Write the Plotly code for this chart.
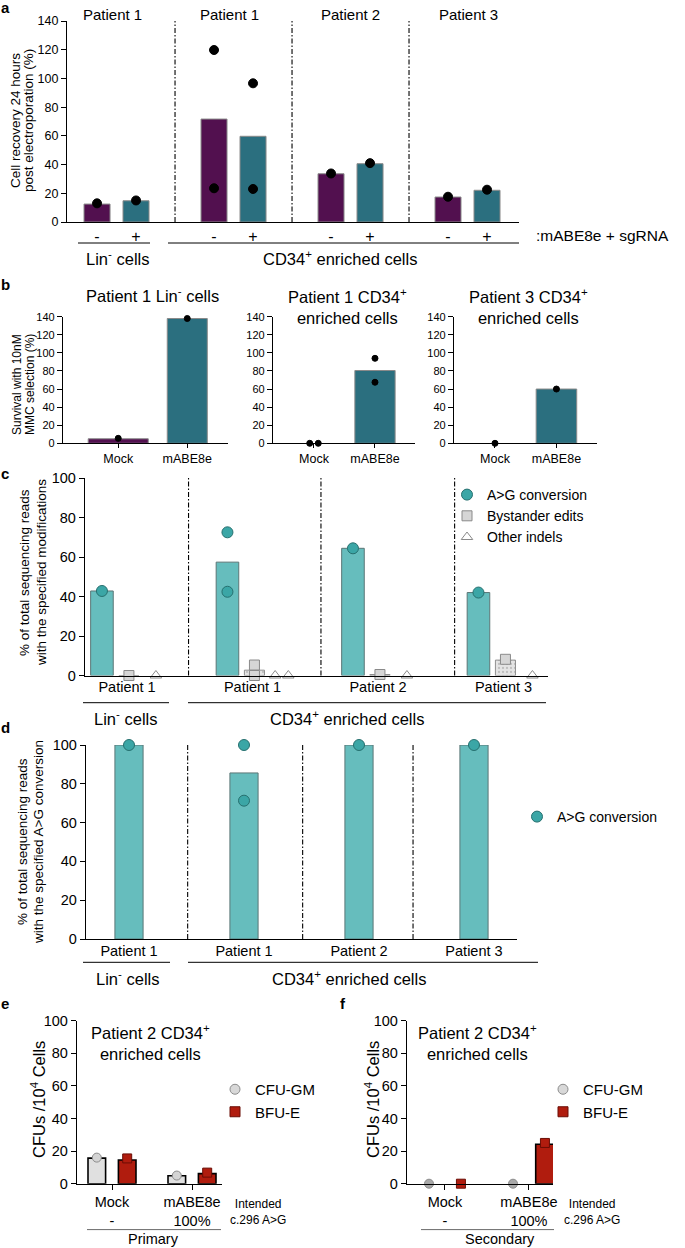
import plotly.graph_objects as go

W, H = 685, 1248
FONT = "Liberation Sans, Arial, Helvetica, sans-serif"

# ---------------- data ----------------
# a: cell recovery 24 h post electroporation (%)
a_titles = ["Patient 1", "Patient 1", "Patient 2", "Patient 3"]
a_mock_bar = [12.5, 71.7, 33.6, 17.4]
a_edit_bar = [14.8, 59.7, 40.6, 22.1]
a_mock_pts = [[13.0], [119.8, 23.5], [33.8], [17.6]]
a_edit_pts = [[15.0], [96.6, 23.0], [41.0], [22.5]]
a_ticktext = ["-", "+"]

# b: survival with 10nM MMC selection (%)
b_titles = ["Patient 1 Lin<sup>-</sup> cells",
            "Patient 1 CD34<sup>+</sup><br>enriched cells",
            "Patient 3 CD34<sup>+</sup><br>enriched cells"]
b_cats = ["Mock", "mABE8e"]
b_mock_bar = [5.0, 0.0, 0.0]
b_edit_bar = [138.0, 80.5, 60.0]
b_mock_pts = [[5.5], [0.0, 0.0], [0.0]]
b_edit_pts = [[138.0], [94.0, 67.5], [60.0]]

# c: % of reads with specified modifications
c_labels = ["Patient 1", "Patient 1", "Patient 2", "Patient 3"]
c_ag_bar = [42.8, 57.4, 64.4, 42.0]
c_ag_pts = [[42.8], [72.5, 42.4], [64.4], [42.0]]
c_bys_bar = [0.0, 2.7, 0.5, 7.8]
c_bys_pts = [[0.0], [5.3, 0.0], [0.5], [8.2]]
c_ind_pts = [[0.0], [0.0, 0.0], [0.0], [0.0]]

# d: % of reads with specified A>G conversion
d_labels = ["Patient 1", "Patient 1", "Patient 2", "Patient 3"]
d_ag_bar = [100.0, 85.6, 100.0, 100.0]
d_ag_pts = [[100.0], [100.0, 71.3], [100.0], [100.0]]

# e/f: CFUs / 10^4 cells
ef_ticktext = ["Mock<br>-", "mABE8e<br>100%"]
e_cfu_bar = [15.7, 4.9]
e_cfu_pts = [[16.0], [5.0]]
e_bfu_bar = [14.5, 6.2]
e_bfu_pts = [[15.5], [6.8]]
f_cfu_bar = [0.0, 0.0]
f_cfu_pts = [[0.0], [0.0]]
f_bfu_bar = [0.0, 24.2]
f_bfu_pts = [[0.0], [25.0]]

# ---------------- styles ----------------
PURPLE = "#52104f"
TEAL = "#2b6f7f"
LTEAL = "#66bdbd"
DOTTEAL = "#3ba6a6"
RED = "#b01c0e"
LGRAY = "#e0e0e0"


def fx(px):
    return px / W


def fy(py):
    return 1 - py / H


fig = go.Figure()


def refs(n):
    return ("x" if n == 1 else f"x{n}", "y" if n == 1 else f"y{n}")


def make_axes(n, xpx, ypx, xrange, yrange, ydtick, tickvals=(), ticktext=(),
              xticks="", xtickfont=12, ytickfont=12, lw=1.3, xstand=0, xticklen=5):
    xr, yr = refs(n)
    xkey = "xaxis" if n == 1 else f"xaxis{n}"
    ykey = "yaxis" if n == 1 else f"yaxis{n}"
    fig.update_layout(**{
        xkey: dict(domain=[fx(xpx[0]), fx(xpx[1])], range=xrange, anchor=yr,
                   showline=True, linecolor="black", linewidth=lw, showgrid=False,
                   zeroline=False, ticks=xticks, ticklen=xticklen, tickwidth=lw,
                   tickcolor="black", tickmode="array", tickvals=list(tickvals),
                   ticktext=list(ticktext), ticklabelstandoff=xstand,
                   tickfont=dict(size=xtickfont, color="black", family=FONT),
                   fixedrange=True, automargin=False),
        ykey: dict(domain=[fy(ypx[1]), fy(ypx[0])], range=yrange, anchor=xr,
                   showline=True, linecolor="black", linewidth=lw, showgrid=False,
                   zeroline=False, ticks="outside", ticklen=5, tickwidth=lw,
                   tickcolor="black", tick0=0, dtick=ydtick,
                   tickfont=dict(size=ytickfont, color="black", family=FONT),
                   fixedrange=True, automargin=False),
    })


def pts_xy(pts, xs, jit=None):
    X, Y = [], []
    for g, vals in enumerate(pts):
        for i, v in enumerate(vals):
            off = 0.0
            if jit is not None and len(vals) > 1:
                off = jit[i]
            X.append(xs[g] + off)
            Y.append(v)
    return X, Y


def bar(n, xs, ys, width, color, lcolor, lwidth=1.0, pattern=None):
    xr, yr = refs(n)
    m = dict(color=color, line=dict(color=lcolor, width=lwidth))
    if pattern:
        m["pattern"] = pattern
    fig.add_trace(go.Bar(x=xs, y=ys, width=width, marker=m, xaxis=xr, yaxis=yr,
                         showlegend=False, hoverinfo="skip"))


def dots(n, X, Y, symbol, size, color, lcolor, lwidth=1.0, name=None, legend=None):
    xr, yr = refs(n)
    fig.add_trace(go.Scatter(x=X, y=Y, mode="markers", xaxis=xr, yaxis=yr,
                             marker=dict(symbol=symbol, size=size, color=color,
                                         line=dict(color=lcolor, width=lwidth)),
                             cliponaxis=False, name=name or "",
                             showlegend=legend is not None,
                             legend=legend or "legend", hoverinfo="skip"))


shapes = []
annots = []


def text(x, y, s, size, anchor="center", angle=0, bold=False):
    if bold:
        s = f"<b>{s}</b>"
    annots.append(dict(x=fx(x), y=fy(y), xref="paper", yref="paper", text=s,
                       showarrow=False, xanchor=anchor, yanchor="middle",
                       textangle=angle, font=dict(size=size, color="black", family=FONT)))


def hline(x0, x1, y, width=1.0, color="black"):
    shapes.append(dict(type="line", xref="paper", yref="paper", x0=fx(x0), x1=fx(x1),
                       y0=fy(y), y1=fy(y), line=dict(color=color, width=width)))


def vdash(n, xpos):
    xr, yr = refs(n)
    shapes.append(dict(type="line", xref=xr, yref=f"{yr} domain", x0=xpos, x1=xpos,
                       y0=0, y1=1, line=dict(color="black", width=1.1,
                                             dash="5px,2px,1.5px,2px")))


# ================= panel a =================
a_mock_x = [3 * g for g in range(4)]
a_edit_x = [3 * g + 1 for g in range(4)]
a_tickvals = sorted(a_mock_x + a_edit_x)
make_axes(1, (67, 519), (21, 222), [-0.77, 10.82], [0, 140], 20,
          tickvals=a_tickvals, ticktext=a_ticktext * 4, xtickfont=16, ytickfont=12.5,
          xstand=0)
bar(1, a_mock_x, a_mock_bar, 0.667, PURPLE, "#8a8a8a", 1)
bar(1, a_edit_x, a_edit_bar, 0.667, TEAL, "#8a8a8a", 1)
X, Y = pts_xy(a_mock_pts, a_mock_x)
dots(1, X, Y, "circle", 9, "black", "black")
X, Y = pts_xy(a_edit_pts, a_edit_x)
dots(1, X, Y, "circle", 9, "black", "black")
for p in (2, 5, 8):
    vdash(1, p)
for t, cx in zip(a_titles, (112, 230, 350, 468)):
    text(cx, 15, t, 15)
text(16, 121, "Cell recovery 24 hours", 13.5, angle=-90)
text(29, 121, "post electroporation (%)", 13.5, angle=-90)
hline(78, 150, 243)
hline(168, 519, 243)
text(117, 258, "Lin<sup>-</sup> cells", 16.5)
text(340, 258, "CD34<sup>+</sup> enriched cells", 16.5)
text(534, 235, ":mABE8e + sgRNA", 15.5, anchor="left")
text(5, 8, "a", 15, bold=True)

# ================= panel b =================
b_specs = [
    (2, (63, 228), [-0.8, 1.59], 0.87, 0.58, 152),
    (3, (273, 415), [-0.672, 1.656], 0.0, 0.66, 347),
    (4, (454, 597), [-0.667, 1.66], 0.0, 0.66, 528),
]
for i, (n, xpx, xrng, wm, we, tcx) in enumerate(b_specs):
    make_axes(n, xpx, (316.7, 443.3), xrng, [0, 140], 20, tickvals=[0, 1],
              ticktext=b_cats, xticks="outside", xtickfont=12.5, ytickfont=11,
              xticklen=4)
    if b_mock_bar[i] > 0:
        bar(n, [0], [b_mock_bar[i]], wm, PURPLE, "#8a8a8a", 1)
    bar(n, [1], [b_edit_bar[i]], we, TEAL, "#8a8a8a", 1)
    X, Y = pts_xy([b_mock_pts[i]], [0], jit=[-0.07, 0.07])
    dots(n, X, Y, "circle", 6, "black", "black")
    X, Y = pts_xy([b_edit_pts[i]], [1])
    dots(n, X, Y, "circle", 6, "black", "black")
    text(tcx, 295 if i == 0 else 306, b_titles[i], 16.5)
text(17, 385, "Survival with 10nM", 12, angle=-90)
text(30, 385, "MMC selection (%)", 12, angle=-90)
text(5, 285, "b", 15, bold=True)

# ================= panel c =================
c_x = list(range(4))
BYS_OFF, IND_OFF = 0.215, 0.43
make_axes(5, (85, 548), (478, 675.5), [-0.135, 3.554], [0, 100], 20,
          tickvals=[g + 0.2 for g in c_x], ticktext=c_labels, xtickfont=14.5,
          ytickfont=14.5, xstand=-2)
bar(5, c_x, c_ag_bar, 0.18, LTEAL, "#5b7676", 1)
bar(5, [g + BYS_OFF for g in c_x], c_bys_bar, 0.16, "#e4e4e4", "#909090", 1,
    pattern=dict(shape=".", fgcolor="#9a9a9a", bgcolor="#e4e4e4", size=4, solidity=0.25))
X, Y = pts_xy(c_ag_pts, c_x)
dots(5, X, Y, "circle", 11, DOTTEAL, "#26706f", 1, name="A>G conversion", legend="legend")
X, Y = pts_xy(c_bys_pts, [g + BYS_OFF for g in c_x])
dots(5, X, Y, "square", 10, "#d6d6d6", "#8a8a8a", 1, name="Bystander edits", legend="legend")
X, Y = pts_xy(c_ind_pts, [g + IND_OFF for g in c_x], jit=[-0.05, 0.055])
dots(5, X, Y, "triangle-up", 10, "white", "#8a8a8a", 1, name="Other indels", legend="legend")
for p in (0.69, 1.745, 2.81):
    vdash(5, p)
text(24, 573, "% of total sequencing reads", 13.5, angle=-90)
text(41, 573, "with the specified modifications", 13.5, angle=-90)
hline(83, 169, 702.7)
hline(188, 546, 702.7)
text(126, 718, "Lin<sup>-</sup> cells", 16.5)
text(347, 718, "CD34<sup>+</sup> enriched cells", 16.5)
text(5, 473, "c", 15, bold=True)

# ================= panel d =================
d_x = list(range(4))
make_axes(6, (86, 517), (745, 939), [-0.374, 3.374], [0, 100], 20,
          tickvals=d_x, ticktext=d_labels, xtickfont=14.5, ytickfont=14.5, xstand=-2)
bar(6, d_x, d_ag_bar, 0.245, LTEAL, "#5b7676", 1)
X, Y = pts_xy(d_ag_pts, d_x)
dots(6, X, Y, "circle", 11, DOTTEAL, "#26706f", 1, name="A>G conversion", legend="legend2")
for p in (0.51, 1.51, 2.47):
    vdash(6, p)
text(22, 842, "% of total sequencing reads", 13.5, angle=-90)
text(38, 842, "with the specified A>G conversion", 13.5, angle=-90)
hline(83, 170, 962.3)
hline(188, 538, 962.3)
text(127, 978, "Lin<sup>-</sup> cells", 16.5)
text(349, 978, "CD34<sup>+</sup> enriched cells", 16.5)
text(5, 727, "d", 15, bold=True)

# ================= panels e / f =================
OFF = 0.19
ef_specs = [
    (7, (77, 222), [-0.4375, 1.375], e_cfu_bar, e_cfu_pts, e_bfu_bar, e_bfu_pts,
     "#d4d4d4", "legend3", 150, 38, 258, (87, 221), 153, "Primary", 5, "e"),
    (8, (407, 553), [-0.452, 1.286], f_cfu_bar, f_cfu_pts, f_bfu_bar, f_bfu_pts,
     "#a9a9a9", "legend4", 478, 372, 592, (421, 554), 500, "Secondary", 343, "f"),
]
for (n, xpx, xrng, cb, cp, bb, bp, dotc, leg, tcx, ytx, icx, ul, lcx, lab,
     letx, letter) in ef_specs:
    make_axes(n, xpx, (1020.7, 1183.7), xrng, [0, 100], 20, tickvals=[0, 1],
              ticktext=ef_ticktext, xticks="outside", xtickfont=14.5, ytickfont=14.5)
    xs = [0, 1]
    cb_x = [x - OFF for x in xs]
    bb_x = [x + OFF for x in xs]
    bar(n, [x for x, v in zip(cb_x, cb) if v > 0], [v for v in cb if v > 0], 0.22,
        LGRAY, "black", 1.6)
    bar(n, [x for x, v in zip(bb_x, bb) if v > 0], [v for v in bb if v > 0], 0.22,
        RED, "black", 1.6)
    X, Y = pts_xy(cp, cb_x)
    dots(n, X, Y, "circle", 9, dotc, "#8c8c8c", 1)
    X, Y = pts_xy(bp, bb_x)
    dots(n, X, Y, "square", 9, RED, "#6a0d05", 1)
    # legend entries
    xr, yr = refs(n)
    fig.add_trace(go.Scatter(x=[None], y=[None], mode="markers", xaxis=xr, yaxis=yr,
                             marker=dict(symbol="circle", size=10, color="#d8d8d8",
                                         line=dict(color="#8c8c8c", width=1)),
                             name="CFU-GM", legend=leg, showlegend=True))
    fig.add_trace(go.Scatter(x=[None], y=[None], mode="markers", xaxis=xr, yaxis=yr,
                             marker=dict(symbol="square", size=10, color=RED,
                                         line=dict(color="#6a0d05", width=1)),
                             name="BFU-E", legend=leg, showlegend=True))
    text(tcx, 1042, "Patient 2 CD34<sup>+</sup><br>enriched cells", 16.5)
    text(ytx, 1100, "CFUs /10<sup>4</sup> Cells", 16.5, angle=-90)
    text(icx, 1212, "Intended<br>c.296 A>G", 12)
    hline(ul[0], ul[1], 1229.6, width=0.8, color="#444")
    text(lcx, 1239, lab, 14.5)
    text(letx, 1003, letter, 15, bold=True)

leg_common = dict(bgcolor="rgba(0,0,0,0)", borderwidth=0, xanchor="left",
                  yanchor="top", tracegroupgap=0, itemclick=False,
                  itemdoubleclick=False,
                  font=dict(size=14, color="black", family=FONT))
fig.update_layout(
    legend=dict(x=fx(447), y=fy(479), **leg_common),
    legend2=dict(x=fx(517), y=fy(801), **leg_common),
    legend3=dict(x=fx(215), y=fy(1073), **{**leg_common,
                                            "font": dict(size=15, color="black", family=FONT)}),
    legend4=dict(x=fx(543), y=fy(1073), **{**leg_common,
                                            "font": dict(size=15, color="black", family=FONT)}),
)

fig.update_layout(width=W, height=H, margin=dict(l=0, r=0, t=0, b=0, autoexpand=False),
                  paper_bgcolor="white", plot_bgcolor="white", barmode="overlay",
                  font=dict(family=FONT, color="black"), shapes=shapes,
                  annotations=annots, showlegend=True)

fig.write_html("out.html", config={"displayModeBar": False},
               post_script="document.body.style.margin='0';"
                           "document.body.style.overflow='hidden';")
